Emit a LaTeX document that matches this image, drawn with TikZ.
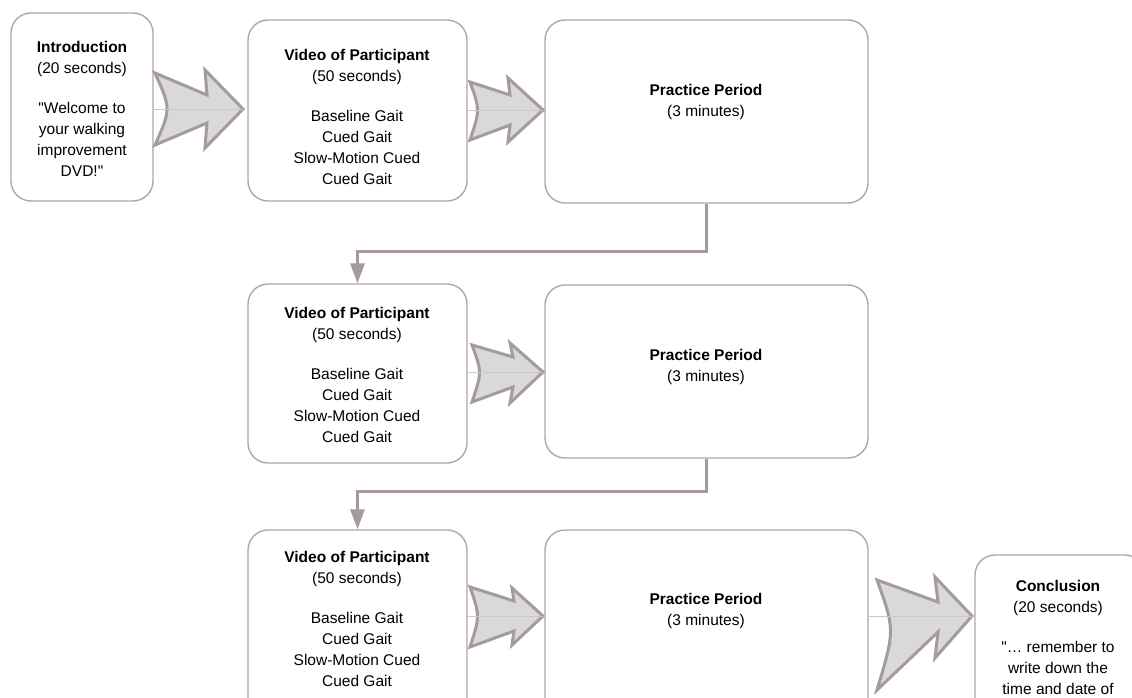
\documentclass[tikz,border=0pt]{standalone}
\usepackage{fontspec}
\setmainfont{Liberation Sans}[Ligatures=TeXOff]
\usetikzlibrary{arrows.meta}
\definecolor{boxc}{HTML}{B2A5AE}
\definecolor{connc}{HTML}{A6999F}
\definecolor{afill}{HTML}{D9D9D9}
\definecolor{midc}{HTML}{C9C9C9}
\begin{document}
\begin{tikzpicture}[x=1pt,y=-1pt,
  box/.style={draw=boxc,line width=1.4pt,rounded corners=20pt,fill=white,inner sep=0pt},
  txt/.style={align=center,inner sep=0pt,anchor=north,font=\fontsize{15.5}{21}\selectfont},
  conn/.style={draw=connc,line width=3pt,-{Triangle[length=20pt,width=14pt]}},
  barrow/.style={draw=connc,line width=3pt,fill=afill,line join=miter},
  mid/.style={draw=midc,line width=0.8pt}]
\useasboundingbox (0,0) rectangle (1132,698);
\clip (0,0) rectangle (1132,698);
\fill[white] (0,0) rectangle (1132,698);

% boxes
\node[box,minimum width=142pt,minimum height=188pt] (intro) at (82,107) {};
\node[box,minimum width=219pt,minimum height=181pt] (vid1) at (357.5,110.5) {};
\node[box,minimum width=323pt,minimum height=183pt] (prac1) at (706.5,111.5) {};
\node[box,minimum width=219pt,minimum height=179pt] (vid2) at (357.5,373.5) {};
\node[box,minimum width=323pt,minimum height=173pt] (prac2) at (706.5,371.5) {};
\node[box,minimum width=219pt,minimum height=190pt] (vid3) at (357.5,625) {};
\node[box,minimum width=323pt,minimum height=190pt] (prac3) at (706.5,625) {};
\node[box,minimum width=170pt,minimum height=170pt] (concl) at (1060,640) {};

% texts
\node[txt] (introt) at (82,41) {\textbf{Introduction}\\(20 seconds)\\[19pt]"Welcome to\\your walking\\improvement\\DVD!"};
\node[txt] (vid1t) at (357,49) {\textbf{Video of Participant}\\(50 seconds)\\[19pt]Baseline Gait\\Cued Gait\\Slow-Motion Cued\\Cued Gait};
\node[txt] (prac1t) at (706,84) {\textbf{Practice Period}\\(3 minutes)};
\node[txt] (vid2t) at (357,307) {\textbf{Video of Participant}\\(50 seconds)\\[19pt]Baseline Gait\\Cued Gait\\Slow-Motion Cued\\Cued Gait};
\node[txt] (prac2t) at (706,349) {\textbf{Practice Period}\\(3 minutes)};
\node[txt] (vid3t) at (357,551) {\textbf{Video of Participant}\\(50 seconds)\\[19pt]Baseline Gait\\Cued Gait\\Slow-Motion Cued\\Cued Gait};
\node[txt] (prac3t) at (706,593) {\textbf{Practice Period}\\(3 minutes)};
\node[txt] (conclt) at (1058,580) {\textbf{Conclusion}\\(20 seconds)\\[19pt]"… remember to\\write down the\\time and date of};

% block arrows
\coordinate (t1) at (243,109);
\coordinate (t2) at (543,110);
\coordinate (t3) at (543,372);
\coordinate (t4) at (543,616);
\coordinate (t5) at (972,616);
\draw[barrow] (155,73) -- (207,95) -- (205,70) -- (t1) -- (205,148) -- (207,123) -- (155,145) .. controls (171,109) .. (155,73) -- cycle;
\draw[barrow] (470,82) -- (510,95) -- (508,78) -- (t2) -- (508,142) -- (510,125) -- (470,140) .. controls (480,110) .. (470,82) -- cycle;
\draw[barrow] (472,345) -- (513,357) -- (510,343) -- (t3) -- (510,403) -- (513,387) -- (472,402) .. controls (482,372) .. (472,345) -- cycle;
\draw[barrow] (470,587) -- (514,601) -- (512,588) -- (t4) -- (512,645) -- (514,631) -- (470,647) .. controls (480,616) .. (470,587) -- cycle;
\draw[barrow] (877,580) -- (938,602) -- (935,577) -- (t5) -- (935,658) -- (938,632) -- (877,690) .. controls (895,630) .. (877,580) -- cycle;
\draw[mid] (intro.east |- t1) -- (t1);
\draw[mid] (vid1.east |- t2) -- (t2);
\draw[mid] (vid2.east |- t3) -- (t3);
\draw[mid] (vid3.east |- t4) -- (t4);
\draw[mid] (prac3.east |- t5) -- (t5);

% connectors
\coordinate (c1) at (707,251);
\coordinate (c2) at (707,491);
\draw[conn] (prac1.south) -- (prac1.south |- c1) -| (vid2.north);
\draw[conn] (prac2.south) -- (prac2.south |- c2) -| (vid3.north);
\end{tikzpicture}
\end{document}
